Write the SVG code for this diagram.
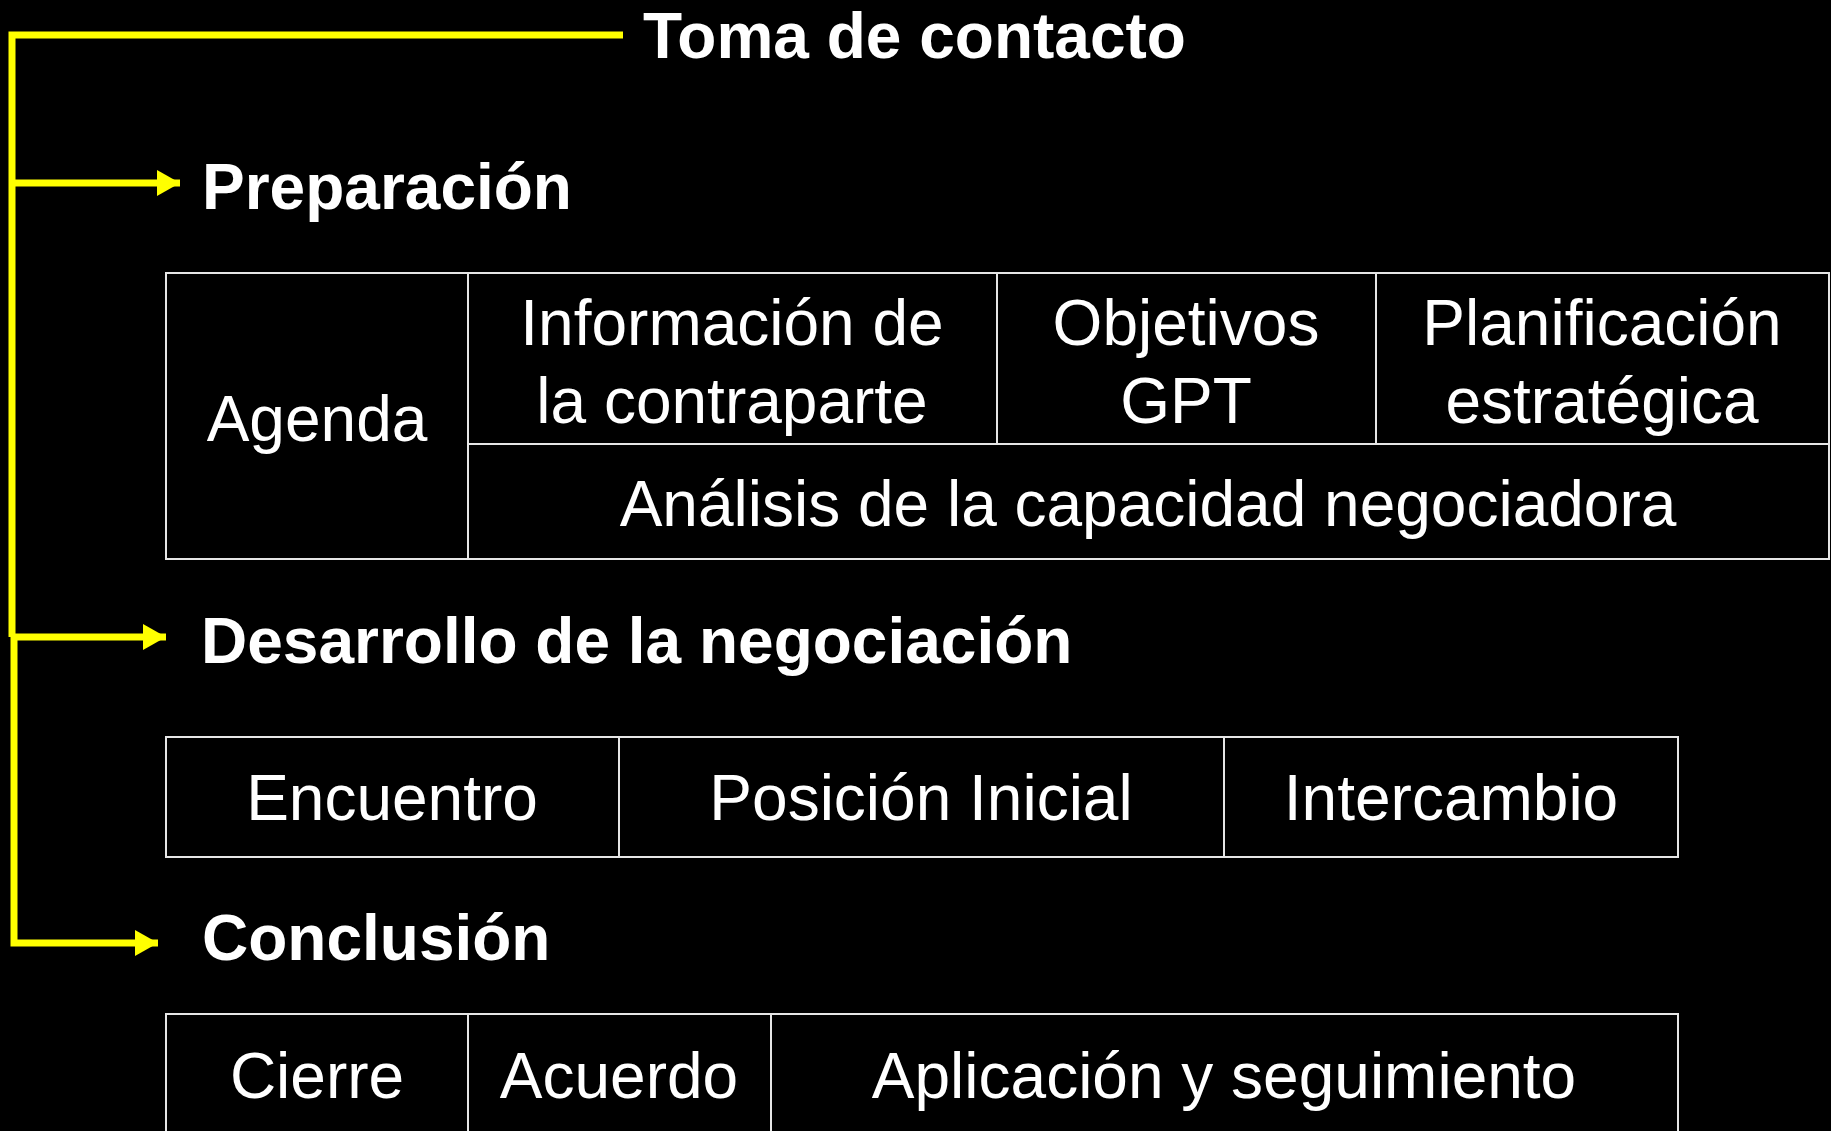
<svg xmlns="http://www.w3.org/2000/svg" width="1831" height="1131" viewBox="0 0 1831 1131">
<defs>
<style>
.h{font-family:"Liberation Sans",Arial,sans-serif;font-weight:bold;font-size:64px;fill:#fff}
.t{font-family:"Liberation Sans",Arial,sans-serif;font-size:64px;fill:#fff;text-anchor:middle}
.cell{fill:none;stroke:#e6e6e6;stroke-width:2}
.conn{fill:none;stroke:#ffff00;stroke-width:7}
</style>
<marker id="arr" markerUnits="userSpaceOnUse" markerWidth="24" markerHeight="26" refX="23" refY="13" orient="auto">
<path d="M0,0 L23,13 L0,26 Z" fill="#ffff00"/>
</marker>
</defs>
<rect width="1831" height="1131" fill="#000"/>
<g id="connectors">
<path class="conn" d="M623,35 H12 V637"/>
<path class="conn" d="M12,183 H180" marker-end="url(#arr)"/>
<path class="conn" d="M12,637 H166" marker-end="url(#arr)"/>
<path class="conn" d="M14,637 V943 H158" marker-end="url(#arr)"/>
</g>
<g id="toma"><text class="h" x="643" y="58">Toma de contacto</text></g>
<g id="preparacion"><text class="h" x="202" y="209">Preparación</text></g>
<g id="desarrollo"><text class="h" x="201" y="663">Desarrollo de la negociación</text></g>
<g id="conclusion"><text class="h" x="202" y="960">Conclusión</text></g>
<g id="tabla-preparacion">
<rect class="cell" x="166" y="273" width="1663" height="286"/>
<line class="cell" x1="468" y1="273" x2="468" y2="559"/>
<line class="cell" x1="997" y1="273" x2="997" y2="444"/>
<line class="cell" x1="1376" y1="273" x2="1376" y2="444"/>
<line class="cell" x1="468" y1="444" x2="1829" y2="444"/>
<text class="t" x="317" y="441">Agenda</text>
<text class="t" x="732" y="345">Información de</text>
<text class="t" x="732" y="423">la contraparte</text>
<text class="t" x="1186" y="345">Objetivos</text>
<text class="t" x="1186" y="423">GPT</text>
<text class="t" x="1602" y="345">Planificación</text>
<text class="t" x="1602" y="423">estratégica</text>
<text class="t" x="1148" y="526">Análisis de la capacidad negociadora</text>
</g>
<g id="tabla-desarrollo">
<rect class="cell" x="166" y="737" width="1512" height="120"/>
<line class="cell" x1="619" y1="737" x2="619" y2="857"/>
<line class="cell" x1="1224" y1="737" x2="1224" y2="857"/>
<text class="t" x="392" y="820">Encuentro</text>
<text class="t" x="921" y="820">Posición Inicial</text>
<text class="t" x="1451" y="820">Intercambio</text>
</g>
<g id="tabla-conclusion">
<rect class="cell" x="166" y="1014" width="1512" height="140"/>
<line class="cell" x1="468" y1="1014" x2="468" y2="1131"/>
<line class="cell" x1="771" y1="1014" x2="771" y2="1131"/>
<text class="t" x="317" y="1098">Cierre</text>
<text class="t" x="619" y="1098">Acuerdo</text>
<text class="t" x="1224" y="1098">Aplicación y seguimiento</text>
</g>
</svg>
